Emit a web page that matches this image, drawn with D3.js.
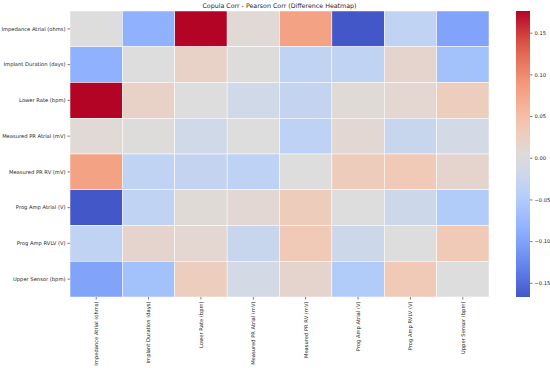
<!DOCTYPE html>
<html>
<head>
<meta charset="utf-8">
<script src="https://d3js.org/d3.v7.min.js"></script>
<style>
  body { margin: 0; background: #fff; }
  text { font-family: "DejaVu Sans", sans-serif; fill: #262626; }
</style>
</head>
<body>
<svg id="chart" width="550" height="368"></svg>
<script>
// variable names (rows and columns share the same order)
let variables = [
  "Impedance Atrial (ohms)",
  "Implant Duration (days)",
  "Lower Rate (bpm)",
  "Measured PR Atrial (mV)",
  "Measured PR RV (mV)",
  "Prog Amp Atrial (V)",
  "Prog Amp RVLV (V)",
  "Upper Sensor (bpm)"
];

// difference values, one row per variable
let rowImpedance = [0.000, -0.085, 0.176, 0.007, 0.080, -0.167, -0.035, -0.100];
let rowImplant   = [-0.085, 0.000, 0.020, 0.002, -0.035, -0.035, 0.015, -0.065];
let rowLowerRate = [0.176, 0.020, 0.000, -0.015, -0.030, 0.006, 0.012, 0.028];
let rowPRAtrial  = [0.007, 0.002, -0.015, 0.000, -0.038, 0.010, -0.025, -0.012];
let rowPRRV      = [0.080, -0.035, -0.030, -0.038, 0.000, 0.030, 0.035, 0.015];
let rowAmpAtrial = [-0.167, -0.035, 0.006, 0.010, 0.030, 0.000, -0.020, -0.050];
let rowAmpRVLV   = [-0.035, 0.015, 0.012, -0.025, 0.035, -0.020, 0.000, 0.035];
let rowUpper     = [-0.100, -0.065, 0.028, -0.012, 0.015, -0.050, 0.035, 0.000];

let colorbarTicks = [0.15, 0.10, 0.05, 0.00, -0.05, -0.10, -0.15];

let matrix = [rowImpedance, rowImplant, rowLowerRate, rowPRAtrial, rowPRRV, rowAmpAtrial, rowAmpRVLV, rowUpper];

let chartAttr = {
  "left": 70,
  "top": 11,
  "width": 419,
  "height": 286,
  "barX": 516,
  "barWidth": 14
};

// approximation of matplotlib's coolwarm colormap
let coolwarmStops = ["#3b4cc0", "#6282ea", "#8db0fe", "#b8d0f9", "#dddddd", "#f5c4ad", "#f49a7b", "#de604d", "#b40426"];
let coolwarm = d3.piecewise(d3.interpolateRgb, coolwarmStops);

let vmin = d3.min(matrix, r => d3.min(r));
let vmax = d3.max(matrix, r => d3.max(r));
let vrange = Math.max(vmax, -vmin);

let color = d3.scaleDiverging(coolwarm).domain([-vrange, 0, vrange]);

var svg = d3.select("#chart");

var x = d3.scaleBand().domain(variables).range([chartAttr.left, chartAttr.left + chartAttr.width]);
var y = d3.scaleBand().domain(variables).range([chartAttr.top, chartAttr.top + chartAttr.height]);

let cells = [];
matrix.forEach((row, i) => row.forEach((v, j) => cells.push({row: variables[i], col: variables[j], value: v})));

//Draw the cells
svg.append("g").selectAll("rect")
  .data(cells)
  .enter()
  .append("rect")
  .attr("x", d => x(d.col))
  .attr("y", d => y(d.row))
  .attr("width", x.bandwidth())
  .attr("height", y.bandwidth())
  .style("fill", d => color(d.value))
  .style("stroke", "white")
  .style("stroke-width", 0.5);

// y axis
var yAxis = svg.append("g")
  .attr("transform", "translate(" + chartAttr.left + ",0)")
  .call(d3.axisLeft(y).tickSize(2.5).tickPadding(2));
yAxis.select(".domain").remove();
yAxis.selectAll("line").style("stroke", "#262626").style("stroke-width", 0.6);
yAxis.selectAll("text").style("font-size", "5.2px").style("font-family", "DejaVu Sans").attr("fill", "#262626");

// x axis, labels rotated
var xAxis = svg.append("g")
  .attr("transform", "translate(0," + (chartAttr.top + chartAttr.height) + ")")
  .call(d3.axisBottom(x).tickSize(2.5).tickPadding(2));
xAxis.select(".domain").remove();
xAxis.selectAll("line").style("stroke", "#262626").style("stroke-width", 0.6);
xAxis.selectAll("text")
  .style("font-size", "5.2px")
  .style("font-family", "DejaVu Sans")
  .attr("fill", "#262626")
  .attr("text-anchor", "end")
  .attr("transform", "rotate(-90)")
  .attr("x", -4.5)
  .attr("y", 0)
  .attr("dy", "0.35em");

// title
svg.append("text")
  .attr("x", chartAttr.left + chartAttr.width / 2)
  .attr("y", 8)
  .attr("text-anchor", "middle")
  .style("font-size", "6.3px")
  .text("Copula Corr - Pearson Corr (Difference Heatmap)");

// colorbar
var barScale = d3.scaleLinear().domain([vmin, vmax]).range([chartAttr.top + chartAttr.height, chartAttr.top]);

var defs = svg.append("defs");
var grad = defs.append("linearGradient")
  .attr("id", "cbar")
  .attr("x1", 0).attr("y1", 1).attr("x2", 0).attr("y2", 0);
d3.range(0, 1.0001, 0.05).forEach(t => {
  grad.append("stop")
    .attr("offset", t)
    .attr("stop-color", color(vmin + t * (vmax - vmin)));
});

svg.append("rect")
  .attr("x", chartAttr.barX)
  .attr("y", chartAttr.top)
  .attr("width", chartAttr.barWidth)
  .attr("height", chartAttr.height)
  .style("fill", "url(#cbar)");

var barAxis = svg.append("g")
  .attr("transform", "translate(" + (chartAttr.barX + chartAttr.barWidth) + ",0)")
  .call(d3.axisRight(barScale).tickValues(colorbarTicks).tickSize(2.5).tickPadding(2).tickFormat(d3.format(".2f")));
barAxis.select(".domain").remove();
barAxis.selectAll("line").style("stroke", "#262626").style("stroke-width", 0.6);
barAxis.selectAll("text").style("font-size", "5.2px").style("font-family", "DejaVu Sans").attr("fill", "#262626");
</script>
</body>
</html>
